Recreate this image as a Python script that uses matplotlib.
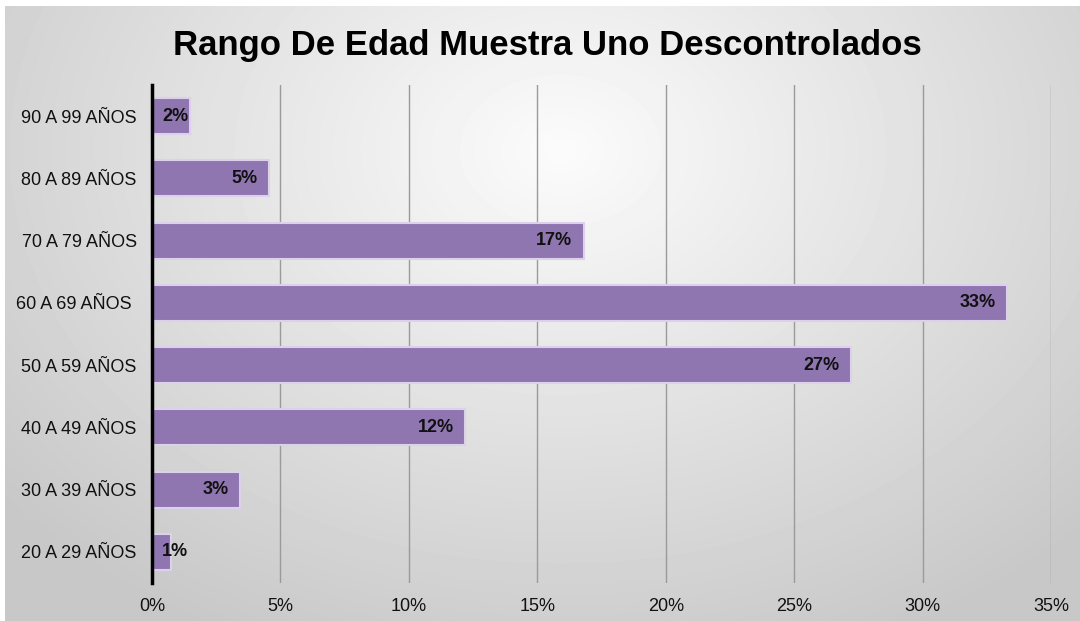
import matplotlib
matplotlib.use("Agg")
import matplotlib.pyplot as plt
import numpy as np

plt.rcParams['font.family'] = ['Liberation Sans', 'DejaVu Sans']

# datos
categorias = ["20 A 29 AÑOS", "30 A 39 AÑOS", "40 A 49 AÑOS", "50 A 59 AÑOS",
              "60 A 69 AÑOS ", "70 A 79 AÑOS", "80 A 89 AÑOS", "90 A 99 AÑOS"]
valores = [0.74, 3.43, 12.2, 27.2, 33.3, 16.8, 4.55, 1.48]
etiquetas = ["1%", "3%", "12%", "27%", "33%", "17%", "5%", "2%"]
xticks = [0, 5, 10, 15, 20, 25, 30, 35]

bar_color = "#8f76b1"
edge_color = "#ddd0ec"

fig = plt.figure(figsize=(10.8, 6.21), dpi=100)

# fondo con degradado radial
bg = fig.add_axes([0, 0, 1, 1])
h, w = 621, 1080
yy, xx = np.mgrid[0:h, 0:w]
r = np.sqrt(((xx - 560) / 720.0) ** 2 + ((yy - 150) / 540.0) ** 2)
shade = 0.985 - 0.20 * np.clip(r, 0, 1)
shade[:6, :] = 1.0
shade[:, :5] = 1.0
bg.imshow(shade, cmap="gray", vmin=0, vmax=1, aspect="auto", interpolation="bilinear")
bg.axis("off")

ax = fig.add_axes([152 / 1080, 1 - 583 / 621, (1051 - 152) / 1080, (583 - 85) / 621])
ax.patch.set_alpha(0)

y = np.arange(len(categorias))
ax.barh(y, valores, height=0.58, color=bar_color, edgecolor=edge_color, linewidth=1.5, zorder=3)

for i, v in enumerate(valores):
    ax.annotate(etiquetas[i], xy=(max(v, 1.85), i), xytext=(-8, 0), textcoords="offset points",
                ha="right", va="center", fontsize=13, fontweight="bold", color="#111111", zorder=4)

ax.set_xlim(0, 35)
ax.set_ylim(-0.5, len(categorias) - 0.5)
ax.set_xticks(xticks)
ax.set_xticklabels([f"{t}%" for t in xticks])
ax.set_yticks(y)
ax.set_yticklabels(categorias)
ax.tick_params(axis="both", length=0, labelsize=13, colors="#111111")
ax.tick_params(axis="x", pad=11)
ax.tick_params(axis="y", pad=11)

ax.grid(axis="x", color="#9a9a9a", linewidth=1.0, zorder=0)
for s in ["top", "right", "bottom"]:
    ax.spines[s].set_visible(False)
ax.spines["left"].set_linewidth(2.5)
ax.spines["left"].set_color("black")
ax.spines["left"].set_zorder(5)

fig.text(547 / 1080, 1 - 46 / 621, "Rango De Edad Muestra Uno Descontrolados",
         ha="center", va="center", fontsize=25, fontweight="bold", color="black")

fig.savefig("out.png", dpi=100)
